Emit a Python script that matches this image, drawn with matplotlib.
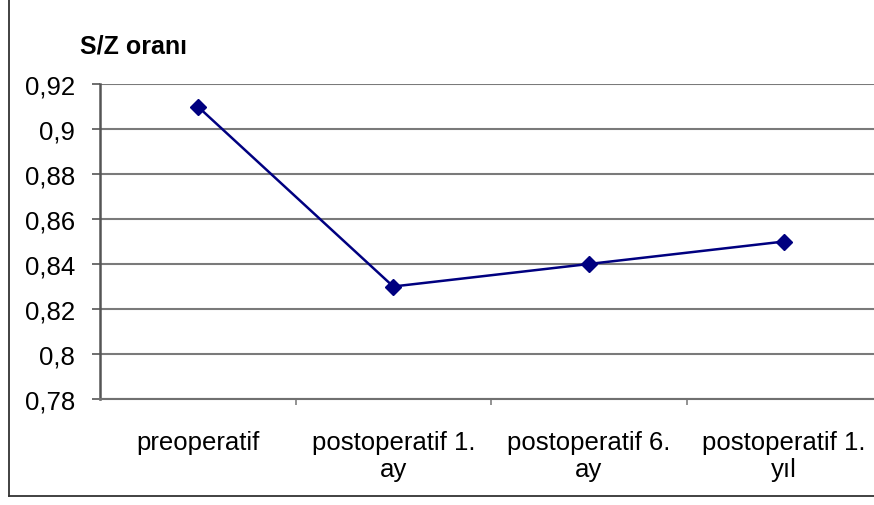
import matplotlib
matplotlib.use("Agg")
import matplotlib.pyplot as plt
from matplotlib.lines import Line2D
from matplotlib.ticker import FixedLocator, NullFormatter

# Voice measurement over the follow-up period
categories = ["preoperatif", "postoperatif 1.\nay", "postoperatif 6.\nay", "postoperatif 1.\nyıl"]
sz_ratio = [0.91, 0.83, 0.84, 0.85]
y_ticks = [0.78, 0.80, 0.82, 0.84, 0.86, 0.88, 0.90, 0.92]
y_tick_labels = ["0,78", "0,8", "0,82", "0,84", "0,86", "0,88", "0,9", "0,92"]
y_title = "S/Z oranı"

plt.rcParams["font.family"] = ["Liberation Sans", "DejaVu Sans"]

W, H = 874, 506
fig = plt.figure(figsize=(W / 100, H / 100), dpi=100)
ax = fig.add_axes([100 / W, 1 - 400 / H, 782 / W, 315 / H])

x = list(range(len(categories)))
ax.plot(x, sz_ratio, color="#000080", lw=1.8, marker="D", markersize=8.5,
        markerfacecolor="#000080", markeredgecolor="#000080", zorder=5, clip_on=False)

ax.set_xlim(-0.5, len(categories) - 0.5)
ax.set_ylim(0.78, 0.92)

# y axis
ax.set_yticks(y_ticks)
ax.set_yticklabels(y_tick_labels, fontsize=18.5)
ax.tick_params(axis="y", direction="out", length=6, width=1.2, color="#555555", pad=12)
ax.grid(axis="y", color="#7a7a7a", lw=1.5)
ax.set_axisbelow(True)

# x axis: boundary ticks between categories, labels centred under points
ax.xaxis.set_major_locator(FixedLocator([i + 0.5 for i in range(len(categories) - 1)]))
ax.xaxis.set_major_formatter(NullFormatter())
ax.xaxis.set_minor_locator(FixedLocator(x))
ax.set_xticklabels(categories, minor=True, fontsize=18.5, linespacing=1.2)
ax.tick_params(axis="x", which="major", direction="out", length=4, width=1.2, color="#808080")
ax.tick_params(axis="x", which="minor", length=0, pad=22)

for side in ("top", "right"):
    ax.spines[side].set_visible(False)
ax.spines["left"].set_color("#555555")
ax.spines["left"].set_linewidth(1.8)
ax.spines["bottom"].set_color("#707070")
ax.spines["bottom"].set_linewidth(1.5)

fig.text(133 / W, 1 - 47 / H, y_title, fontsize=18, fontweight="bold",
         ha="center", va="center")

# chart-area frame
fig.add_artist(Line2D([8.5 / W, 8.5 / W], [1.0, 1 - 497 / H], transform=fig.transFigure,
                      color="#333333", lw=1.3))
fig.add_artist(Line2D([8.5 / W, 1.0], [1 - 497 / H, 1 - 497 / H], transform=fig.transFigure,
                      color="#333333", lw=1.3))

fig.savefig("out.png", dpi=100, facecolor="white")
